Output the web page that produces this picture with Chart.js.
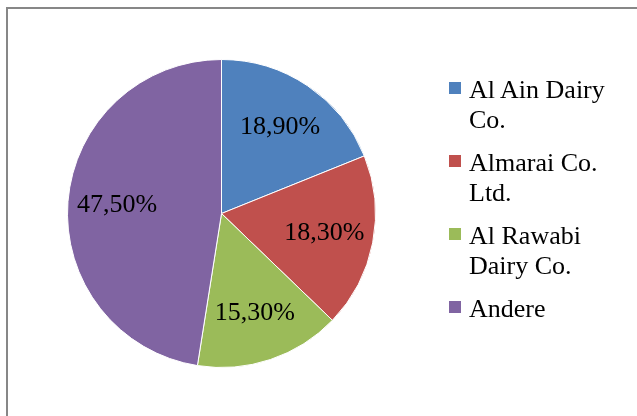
<!DOCTYPE html>
<html>
<head>
<meta charset="utf-8">
<script src="https://cdn.jsdelivr.net/npm/chart.js@4/dist/chart.umd.min.js"></script>
<style>
  html, body { margin: 0; padding: 0; background: #fff; }
  #wrap { position: relative; width: 637px; height: 416px; overflow: hidden; }
  #frame {
    position: absolute; left: 6px; top: 7px; width: 700px; height: 500px;
    border-left: 2px solid #878787; border-top: 2px solid #878787;
  }
  #chart { position: absolute; left: 0; top: 0; }
  #legend {
    position: absolute; left: 449px; top: 75px; width: 175px;
    font-family: "Liberation Serif", "Times New Roman", serif;
    font-size: 26px; line-height: 30px; color: #000;
  }
  .item { position: relative; padding-left: 20px; margin-bottom: 13px; }
  .box { position: absolute; left: 0; top: 7px; width: 12px; height: 12px; }
</style>
</head>
<body>
<div id="wrap">
  <div id="frame"></div>
  <canvas id="chart" width="637" height="416"></canvas>
  <div id="legend"></div>
</div>
<script>
// Market share by company
const companies = ["Al Ain Dairy Co.", "Almarai Co. Ltd.", "Al Rawabi Dairy Co.", "Andere"];
const shares = [18.9, 18.3, 15.3, 47.5];
const colors = ["#4F81BD", "#C0504D", "#9BBB59", "#8064A2"];

function fmtPct(v) {
    return v.toFixed(2).replace(".", ",") + "%";
}

// draws the value labels inside each slice
const sliceLabels = {
    id: "sliceLabels",
    afterDatasetsDraw(chart) {
        const ctx = chart.ctx;
        const meta = chart.getDatasetMeta(0);
        ctx.save();
        ctx.font = '26px "Liberation Serif", "Times New Roman", serif';
        ctx.fillStyle = "#000";
        ctx.textAlign = "center";
        ctx.textBaseline = "middle";
        meta.data.forEach((arc, i) => {
            const p = arc.getProps(["x", "y", "startAngle", "endAngle", "outerRadius"], true);
            const mid = (p.startAngle + p.endAngle) / 2;
            const r = p.outerRadius * 0.68;
            ctx.fillText(fmtPct(shares[i]), p.x + Math.cos(mid) * r, p.y + Math.sin(mid) * r);
        });
        ctx.restore();
    },
};

const chart = new Chart(document.getElementById("chart").getContext("2d"), {
    type: "pie",
    data: {
        labels: companies,
        datasets: [{
            data: shares,
            backgroundColor: colors,
            borderColor: "#ffffff",
            borderWidth: 1,
        }],
    },
    options: {
        responsive: false,
        animation: false,
        layout: { padding: { left: 67, right: 261, top: 59, bottom: 48 } },
        plugins: {
            legend: { display: false },
            tooltip: { enabled: false },
        },
    },
    plugins: [sliceLabels],
});

// html legend built from the chart's own legend items
const legendEl = document.getElementById("legend");
chart.options.plugins.legend.labels.generateLabels(chart).forEach(item => {
    const div = document.createElement("div");
    div.className = "item";
    const box = document.createElement("span");
    box.className = "box";
    box.style.background = item.fillStyle;
    div.appendChild(box);
    div.appendChild(document.createTextNode(item.text));
    legendEl.appendChild(div);
});
</script>
</body>
</html>
